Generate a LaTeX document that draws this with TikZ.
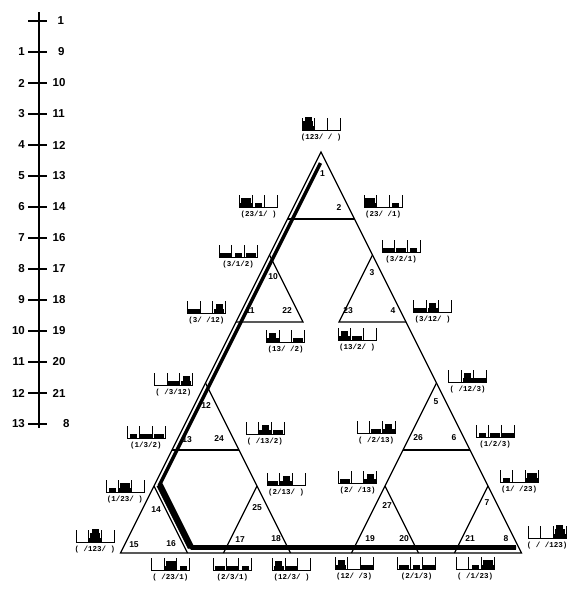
\documentclass[tikz,border=0pt]{standalone}
\usepackage{fontspec}
\setmainfont{Liberation Sans}
\newfontfamily\monof{Liberation Mono}
\newcommand\hs[7]{% name, x, y, pegA, pegB, pegC (bottom-to-top, 0 = empty), label
 \begin{scope}[shift={(#2,#3)}]
  \draw[peg] (-19,-12) -- (-19,0) -- (19,0) -- (19,-12);
  \draw[peg] (-6.33,0) -- (-6.33,-12) (6.33,0) -- (6.33,-12);
  \foreach \d [count=\i] in {#4} {\ifnum\d>0 \fill (-12.67-2-1.5*\d,-4.5*\i+4.5) rectangle (-12.67+2+1.5*\d,-4.5*\i);\fi}
  \foreach \d [count=\i] in {#5} {\ifnum\d>0 \fill (-2-1.5*\d,-4.5*\i+4.5) rectangle (2+1.5*\d,-4.5*\i);\fi}
  \foreach \d [count=\i] in {#6} {\ifnum\d>0 \fill (12.67-2-1.5*\d,-4.5*\i+4.5) rectangle (12.67+2+1.5*\d,-4.5*\i);\fi}
  \node[slab] (#1) at (0,7.5) {#7};
 \end{scope}}
\begin{document}
\begin{tikzpicture}[x=1pt,y=-1pt,
  edge/.style={line width=1.2pt},
  peg/.style={line width=0.9pt},
  tnum/.style={font=\bfseries\fontsize{8.5}{8.5}\selectfont, inner sep=0pt},
  snum/.style={font=\bfseries\fontsize{11.5}{11.5}\selectfont, inner sep=0pt},
  slab/.style={font=\monof\bfseries\fontsize{7.5}{7.5}\selectfont, inner sep=0pt},
]
\useasboundingbox (0,0) rectangle (568,589);

% ---------- scale ----------
\draw[line width=1.8pt] (39,12) -- (39,428);
\foreach \k in {0,...,13} {\draw[line width=1.4pt] (28,21+31*\k) -- (47,21+31*\k);}
\foreach \k in {1,...,13} {\node[snum, anchor=east] (sl\k) at (25,21+31*\k) {\k};}
\node[snum, anchor=west] (sr0) at (57.5,21) {1};
\node[snum, anchor=west] (sr1) at (58,52) {9};
\node[snum, anchor=west] (sr2) at (52.5,83) {10};
\node[snum, anchor=west] (sr3) at (52.5,114) {11};
\node[snum, anchor=west] (sr4) at (52.5,145) {12};
\node[snum, anchor=west] (sr5) at (52.5,176) {13};
\node[snum, anchor=west] (sr6) at (52.5,207) {14};
\node[snum, anchor=west] (sr7) at (52.5,238) {16};
\node[snum, anchor=west] (sr8) at (52.5,269) {17};
\node[snum, anchor=west] (sr9) at (52.5,300) {18};
\node[snum, anchor=west] (sr10) at (52.5,331) {19};
\node[snum, anchor=west] (sr11) at (52.5,362) {20};
\node[snum, anchor=west] (sr12) at (52.5,393) {21};
\node[snum, anchor=west] (sr13) at (63,424) {8};

% ---------- triangle graph ----------
\coordinate (A) at (321,152);
\coordinate (BL) at (120.5,553);
\coordinate (BR) at (521.5,553);
\draw[edge, line join=miter] (BL) -- (A) -- (BR) -- cycle;
\draw[edge] (287.5,219) -- (354.5,219);
\draw[edge] (269.5,255) -- (303,322) -- (236,322);
\draw[edge] (372.5,255) -- (339,322) -- (406,322);
\draw[edge] (205.5,383) -- (290.5,553);
\draw[edge] (172,450) -- (239,450);
\draw[edge] (154,486) -- (187.5,553);
\draw[edge] (257,486) -- (223.5,553);
\draw[edge] (436.5,383) -- (351.5,553);
\draw[edge] (403,450) -- (470,450);
\draw[edge] (385,486) -- (418.5,553);
\draw[edge] (488,486) -- (454.5,553);

% ---------- state numbers ----------
\node[tnum] (n1) at (322.5,174) {1};
\node[tnum] (n2) at (339,208) {2};
\node[tnum] (n10) at (273,277) {10};
\node[tnum] (n11) at (250,311) {11};
\node[tnum] (n22) at (287,311) {22};
\node[tnum] (n3) at (372,273) {3};
\node[tnum] (n23) at (348,311) {23};
\node[tnum] (n4) at (393,311) {4};
\node[tnum] (n12) at (206,406) {12};
\node[tnum] (n13) at (187,440) {13};
\node[tnum] (n24) at (219,439) {24};
\node[tnum] (n5) at (436,402) {5};
\node[tnum] (n26) at (418,438) {26};
\node[tnum] (n6) at (454,438) {6};
\node[tnum] (n14) at (156,510) {14};
\node[tnum] (n15) at (134,545) {15};
\node[tnum] (n16) at (171,544) {16};
\node[tnum] (n25) at (257,508) {25};
\node[tnum] (n17) at (240,540) {17};
\node[tnum] (n18) at (276,539) {18};
\node[tnum] (n27) at (387,506) {27};
\node[tnum] (n19) at (370,539) {19};
\node[tnum] (n20) at (404,539) {20};
\node[tnum] (n7) at (487,503) {7};
\node[tnum] (n21) at (470,539) {21};
\node[tnum] (n8) at (506,539) {8};

% ---------- highlighted path ----------
\coordinate (p0) at (320.5,163);
\coordinate (p1) at (159.6,484.8);
\coordinate (p2) at (190.95,547.5);
\coordinate (p3) at (516,547.5);
\draw[line width=3.5pt, line join=miter] (p0) -- (p1) -- (p2) -- (p3);
\draw[line width=6.5pt] (p1) -- (p2);
\draw[line width=4.5pt] (p2) -- (p3);

% ---------- state pictograms ----------
\hs{s1}{321}{130}{3,2,1}{0}{0}{(123/ / )}
\hs{s9}{258.5}{207}{3,2}{1}{0}{(23/1/ )}
\hs{s2}{383}{207}{3,2}{0}{1}{(23/ /1)}
\hs{s10}{238}{257}{3}{1}{2}{(3/1/2)}
\hs{s3}{401}{252}{3}{2}{1}{(3/2/1)}
\hs{s11}{206.5}{313}{3}{0}{2,1}{(3/ /12)}
\hs{s4}{432.5}{312}{3}{2,1}{0}{(3/12/ )}
\hs{s22}{285.5}{342}{3,1}{0}{2}{(13/ /2)}
\hs{s23}{357}{340}{3,1}{2}{0}{(13/2/ )}
\hs{s12}{173.5}{385}{0}{3}{2,1}{( /3/12)}
\hs{s13}{146}{438}{1}{3}{2}{(1/3/2)}
\hs{s24}{265}{434}{0}{3,1}{2}{( /13/2)}
\hs{s5}{467.5}{382}{0}{2,1}{3}{( /12/3)}
\hs{s26}{376}{433}{0}{2}{3,1}{( /2/13)}
\hs{s6}{495}{437}{1}{2}{3}{(1/2/3)}
\hs{s14}{125}{492}{1}{3,2}{0}{(1/23/ )}
\hs{s25}{286}{485}{2}{3,1}{0}{(2/13/ )}
\hs{s27}{357.5}{483}{2}{0}{3,1}{(2/ /13)}
\hs{s7}{519}{482}{1}{0}{3,2}{(1/ /23)}
\hs{s15}{95}{542}{0}{3,2,1}{0}{( /123/ )}
\hs{s8}{547}{538}{0}{0}{3,2,1}{( / /123)}
\hs{s16}{170.5}{570}{0}{3,2}{1}{( /23/1)}
\hs{s17}{232.5}{570}{2}{3}{1}{(2/3/1)}
\hs{s18}{291.5}{570}{2,1}{3}{0}{(12/3/ )}
\hs{s19}{354}{569}{2,1}{0}{3}{(12/ /3)}
\hs{s20}{416.5}{569}{2}{1}{3}{(2/1/3)}
\hs{s21}{475}{569}{0}{1}{3,2}{( /1/23)}
\end{tikzpicture}
\end{document}
